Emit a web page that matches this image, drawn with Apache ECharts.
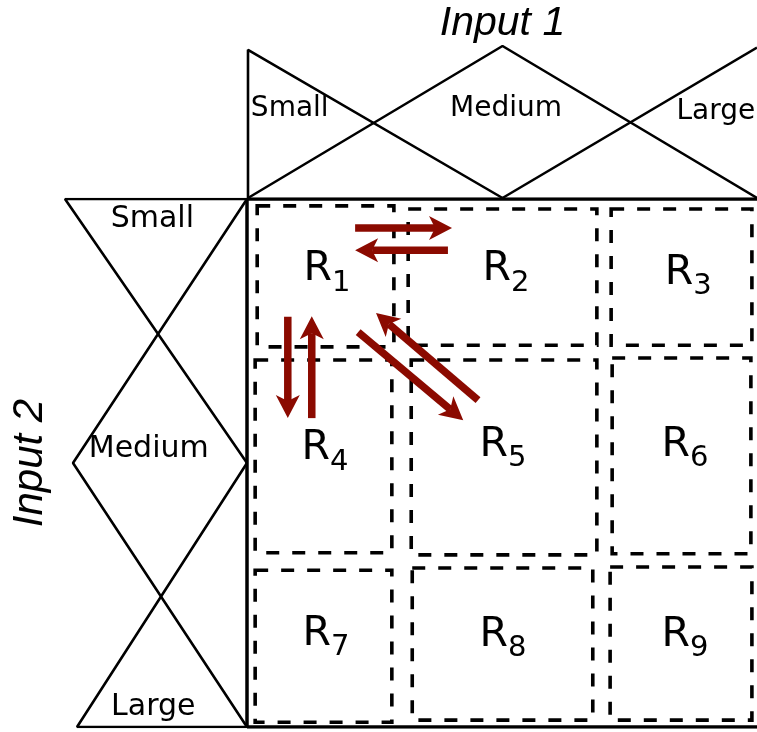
<!DOCTYPE html>
<html>
<head>
<meta charset="utf-8">
<script src="https://cdn.jsdelivr.net/npm/echarts@6/dist/echarts.min.js"></script>
<style>html,body{margin:0;padding:0;background:#fff}#c{width:757px;height:732px}</style>
</head>
<body>
<div id="c"></div>
<script>
// ---- Data (unit universes: input values 0..1, membership 0..1) ----
// Input 1 membership functions: [input1, membership]
var in1Small  = [[0, 0], [0, 0.975], [0.5, 0]];
var in1Medium = [[0, 0], [0.5, 1], [1, 0]];
var in1Large  = [[0.5, 0], [1, 0.99]];
var in1Labels = [["Small", 0.082, 0.585], ["Medium", 0.507, 0.585], ["Large", 0.919, 0.565]];

// Input 2 membership functions: [membership, input2]
var in2Small  = [[0, 0], [1, 0], [0, 0.5]];
var in2Medium = [[0, 0], [0.956, 0.5], [0, 1]];
var in2Large  = [[0, 0.5], [0.934, 1], [0, 1]];
var in2Labels = [["Small", 0.52, 0.038], ["Medium", 0.54, 0.473], ["Large", 0.515, 0.962]];

// Rule regions (input1 from/to, input2 from/to) and label positions
var ruleNames = ["R", "R", "R", "R", "R", "R", "R", "R", "R"];
var ruleSubs  = ["1", "2", "3", "4", "5", "6", "7", "8", "9"];
var ruleX0 = [0.020, 0.316, 0.714, 0.016, 0.322, 0.716, 0.016, 0.324, 0.712];
var ruleX1 = [0.288, 0.686, 0.990, 0.284, 0.686, 0.988, 0.284, 0.678, 0.990];
var ruleY0 = [0.013, 0.019, 0.019, 0.305, 0.305, 0.301, 0.703, 0.699, 0.697];
var ruleY1 = [0.280, 0.277, 0.277, 0.670, 0.674, 0.672, 0.991, 0.987, 0.987];
var ruleLabelX = [0.157, 0.508, 0.865, 0.153, 0.502, 0.859, 0.155, 0.502, 0.859];
var ruleLabelY = [0.134, 0.134, 0.140, 0.473, 0.466, 0.466, 0.824, 0.826, 0.826];

// Transitions between rules: [fromX, fromY, tipX, tipY]
var transitions = [
  [0.212, 0.055, 0.402, 0.055],
  [0.394, 0.097, 0.212, 0.097],
  [0.080, 0.223, 0.080, 0.415],
  [0.127, 0.415, 0.127, 0.222],
  [0.218, 0.252, 0.424, 0.419],
  [0.453, 0.381, 0.253, 0.216]
];

// Border of the rule plane
var borderTop = [[0, 0], [1, 0]];
var borderLeft = [[0, 0], [0, 1]];
var borderBottom = [[0, 1], [1, 1]];

// ---- Chart ----
var chart = echarts.init(document.getElementById('c'), null, {renderer: 'canvas'});
var FONT = 'DejaVu Sans';
function mf(data, xi, yi, w) {
  return {type: 'line', symbol: 'none', silent: true, animation: false, data: data,
    xAxisIndex: xi, yAxisIndex: yi, lineStyle: {color: '#000', width: w || 2.6, opacity: 1}};
}
function labelSeries(list, xi, yi, size) {
  return {type: 'scatter', xAxisIndex: xi, yAxisIndex: yi, symbolSize: 1, silent: true, animation: false,
    itemStyle: {color: '#000', opacity: 0},
    label: {show: true, position: 'inside', formatter: '{b}', color: '#000', opacity: 1,
      fontFamily: FONT, fontSize: size, textBorderWidth: 0},
    data: list.map(function (d) { return {name: d[0], value: [d[1], d[2]]}; })};
}
var hiddenAxis = function (g, inv) { return {type: 'value', gridIndex: g, min: 0, max: 1, inverse: !!inv, show: false}; };
var nameStyle = {fontFamily: 'Liberation Sans', fontStyle: 'italic', fontSize: 41, color: '#000'};

var ruleData = ruleX0.map(function (_, i) { return [ruleX0[i], ruleX1[i], ruleY0[i], ruleY1[i]]; });
var ruleLabelData = ruleLabelX.map(function (_, i) {
  return {name: ruleNames[i], sub: ruleSubs[i], value: [ruleLabelX[i], ruleLabelY[i]]};
});

chart.setOption({
  backgroundColor: '#fff',
  animation: false,
  grid: [
    {left: 248, top: 46, width: 509, height: 152, outerBoundsMode: 'none', containLabel: false},
    {left: 65, top: 199, width: 182, height: 528, outerBoundsMode: 'none', containLabel: false},
    {left: 247, top: 199, width: 510, height: 528, outerBoundsMode: 'none', containLabel: false}
  ],
  xAxis: [
    {type: 'value', gridIndex: 0, min: 0, max: 1, position: 'top', name: 'Input 1', nameLocation: 'middle',
      nameGap: 2, nameTextStyle: nameStyle, axisLine: {show: false, onZero: false}, axisTick: {show: false},
      axisLabel: {show: false}, splitLine: {show: false}},
    hiddenAxis(1, true),
    hiddenAxis(2, false)
  ],
  yAxis: [
    hiddenAxis(0, false),
    {type: 'value', gridIndex: 1, min: 0, max: 1, inverse: true, position: 'left', name: 'Input 2',
      nameLocation: 'middle', nameGap: 14, nameTextStyle: Object.assign({}, nameStyle, {fontSize: 42}),
      axisLine: {show: false, onZero: false},
      axisTick: {show: false}, axisLabel: {show: false}, splitLine: {show: false}},
    hiddenAxis(2, true)
  ],
  series: [
    mf(in1Small, 0, 0), mf(in1Medium, 0, 0), mf(in1Large, 0, 0),
    mf(in2Small, 1, 1), mf(in2Medium, 1, 1), mf(in2Large, 1, 1),
    mf(borderTop, 2, 2, 3.5), mf(borderLeft, 2, 2, 3.5), mf(borderBottom, 2, 2, 3.5),
    labelSeries(in1Labels, 0, 0, 28), labelSeries(in2Labels, 1, 1, 30),
    {
      type: 'custom', xAxisIndex: 2, yAxisIndex: 2, silent: true, animation: false,
      data: ruleData,
      renderItem: function (params, api) {
        var p0 = api.coord([api.value(0), api.value(2)]);
        var p1 = api.coord([api.value(1), api.value(3)]);
        return {type: 'rect', shape: {x: p0[0], y: p0[1], width: p1[0] - p0[0], height: p1[1] - p0[1]},
          style: {fill: 'none', stroke: '#000', lineWidth: 3.6, lineDash: [13, 13]}};
      }
    },
    {
      type: 'scatter', xAxisIndex: 2, yAxisIndex: 2, symbolSize: 1, silent: true, animation: false,
      itemStyle: {color: '#000', opacity: 0},
      data: ruleLabelData,
      label: {show: true, position: 'inside', align: 'center', verticalAlign: 'middle', color: '#000', opacity: 1,
        formatter: function (p) { return '{r|' + p.data.name + '}{s|' + p.data.sub + '}'; },
        rich: {
          r: {fontFamily: FONT, fontSize: 41, color: '#000', lineHeight: 56},
          s: {fontFamily: FONT, fontSize: 29, color: '#000', lineHeight: 22, verticalAlign: 'bottom'}
        }}
    },
    {
      type: 'custom', xAxisIndex: 2, yAxisIndex: 2, silent: true, animation: false,
      data: transitions,
      renderItem: function (params, api) {
        var a = api.coord([api.value(0), api.value(1)]);
        var b = api.coord([api.value(2), api.value(3)]);
        var dx = b[0] - a[0], dy = b[1] - a[1], len = Math.sqrt(dx * dx + dy * dy);
        var ux = dx / len, uy = dy / len, nx = -uy, ny = ux;
        var L = 23, W = 12, N = 6;
        var bx = b[0] - ux * L, by = b[1] - uy * L;
        var col = '#8b0a00';
        return {type: 'group', children: [
          {type: 'line', shape: {x1: a[0], y1: a[1], x2: b[0] - ux * (L - N), y2: b[1] - uy * (L - N)},
            style: {stroke: col, lineWidth: 7.5}},
          {type: 'polygon', shape: {points: [
            [b[0], b[1]], [bx + nx * W, by + ny * W], [bx + ux * N, by + uy * N], [bx - nx * W, by - ny * W]
          ]}, style: {fill: col}}
        ]};
      }
    }
  ]
});
</script>
</body>
</html>
